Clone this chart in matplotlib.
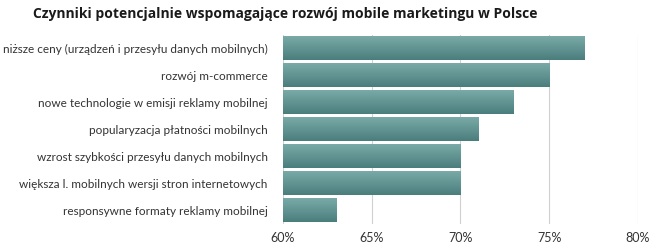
import numpy as np
import matplotlib
matplotlib.use('Agg')
from matplotlib import pyplot as plt
from matplotlib.colors import LinearSegmentedColormap

labels = [
    'niższe ceny (urządzeń i przesyłu danych mobilnych)',
    'rozwój m-commerce',
    'nowe technologie w emisji reklamy mobilnej',
    'popularyzacja płatności mobilnych',
    'wzrost szybkości przesyłu danych mobilnych',
    'większa l. mobilnych wersji stron internetowych',
    'responsywne formaty reklamy mobilnej',
]
values = [77, 75, 73, 71, 70, 70, 63]
ticks = [60, 65, 70, 75, 80]

fig = plt.figure(figsize=(6.55, 2.49), dpi=100)
ax = fig.add_axes([0.432, 0.100, 0.542, 0.759])

y = np.arange(len(labels))
bars = ax.barh(y, values, left=0, height=0.87, color='none')

# gradient w każdym słupku
cmap = LinearSegmentedColormap.from_list('teal', ['#79aaa8', '#4a7e7c'])
grad = np.linspace(0, 1, 64).reshape(-1, 1)
for bar in bars:
    x0, y0 = 60, bar.get_y()
    x1, y1 = bar.get_x() + bar.get_width(), bar.get_y() + bar.get_height()
    ax.imshow(grad, cmap=cmap, aspect='auto', extent=(x0, x1, y1, y0),
              origin='upper', zorder=2)
ax.set_aspect('auto')
ax.set_xlim(60, 80)
ax.set_ylim(len(labels) - 0.5, -0.5)

ax.set_xticks(ticks)
ax.set_xticklabels([f'{t}%' for t in ticks], family='Lato', fontsize=9, color='#333333')
ax.set_yticks(y)
ax.set_yticklabels(labels, family='Lato', fontsize=8.5, color='#333333')
ax.tick_params(axis='y', length=0, pad=11)
ax.tick_params(axis='x', length=0, pad=6)
ax.grid(axis='x', color='#d0d0d0', linewidth=0.8, zorder=0)
ax.set_axisbelow(True)
for s in ax.spines.values():
    s.set_visible(False)

fig.text(0.05, 0.945, 'Czynniki potencjalnie wspomagające rozwój mobile marketingu w Polsce',
         family='Open Sans', weight='bold', fontsize=10, color='#1a1a1a', va='center')

fig.savefig('out.png', dpi=100)
